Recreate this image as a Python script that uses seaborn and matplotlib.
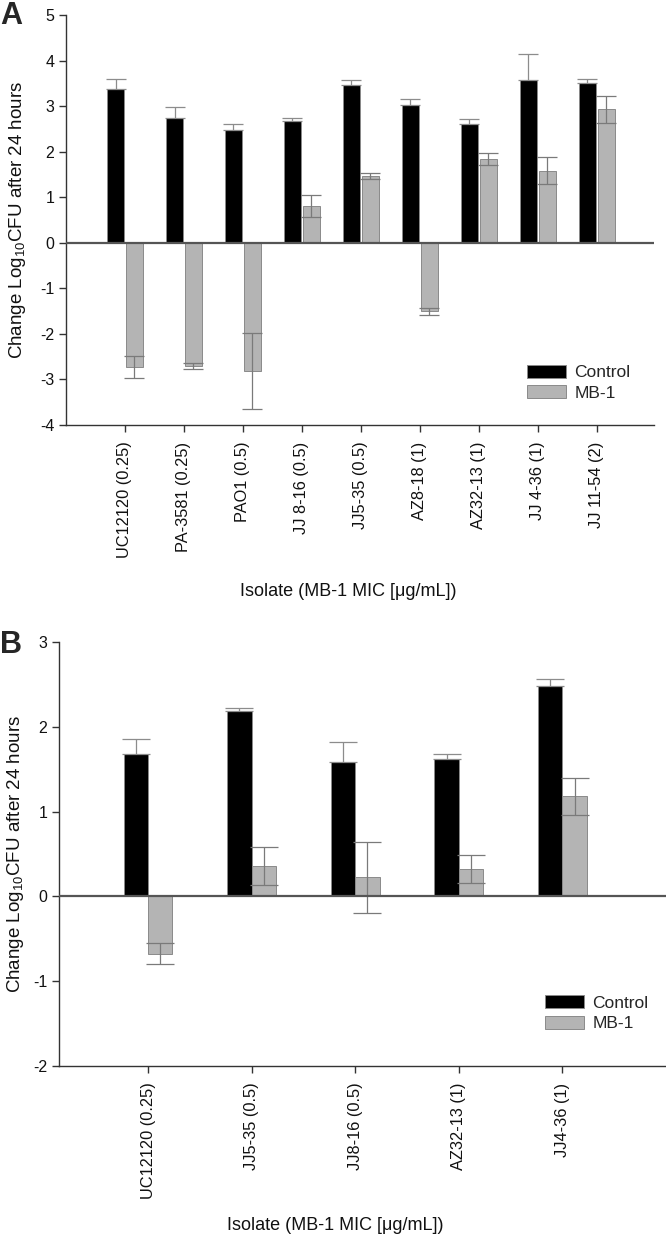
import numpy as np
import pandas as pd
import matplotlib
matplotlib.use("Agg")
import matplotlib.pyplot as plt
import seaborn as sns

# Panel A data
isolados_a = ["UC12120 (0.25)", "PA-3581 (0.25)", "PAO1 (0.5)", "JJ 8-16 (0.5)", "JJ5-35 (0.5)",
              "AZ8-18 (1)", "AZ32-13 (1)", "JJ 4-36 (1)", "JJ 11-54 (2)"]
control_a = [3.37, 2.74, 2.48, 2.68, 3.47, 3.02, 2.60, 3.58, 3.50]
control_a_err = [0.22, 0.24, 0.12, 0.07, 0.11, 0.13, 0.11, 0.57, 0.09]
mb1_a = [-2.72, -2.70, -2.81, 0.81, 1.46, -1.50, 1.84, 1.58, 2.93]
mb1_a_err = [0.24, 0.065, 0.84, 0.245, 0.07, 0.075, 0.13, 0.30, 0.30]

# Panel B data
isolados_b = ["UC12120 (0.25)", "JJ5-35 (0.5)", "JJ8-16 (0.5)", "AZ32-13 (1)", "JJ4-36 (1)"]
control_b = [1.68, 2.19, 1.59, 1.62, 2.48]
control_b_err = [0.18, 0.03, 0.23, 0.06, 0.08]
mb1_b = [-0.675, 0.36, 0.225, 0.32, 1.18]
mb1_b_err = [0.125, 0.22, 0.42, 0.165, 0.215]

grupos = ["Control", "MB-1"]
colores = ["#000000", "#b4b4b4"]

sns.set_style("white")
plt.rcParams["font.family"] = ["Liberation Sans", "DejaVu Sans"]
plt.rcParams["mathtext.default"] = "regular"
plt.rcParams["axes.unicode_minus"] = False

fig = plt.figure(figsize=(6.66, 12.35), dpi=100)
W, H = 666, 1235


def panel(rect, isolados, control, control_err, mb1, mb1_err, ancho, hueco, xlim, ylim,
          capsize, leyenda_pos):
    x0, y0, x1, y1 = rect
    ax = fig.add_axes([x0 / W, 1 - y1 / H, (x1 - x0) / W, (y1 - y0) / H])
    df = pd.DataFrame({
        "isolado": isolados * 2,
        "grupo": ["Control"] * len(isolados) + ["MB-1"] * len(isolados),
        "valor": list(control) + list(mb1),
    })
    sns.barplot(data=df, x="isolado", y="valor", hue="grupo", order=isolados, hue_order=grupos,
                palette=colores, width=ancho, gap=hueco, errorbar=None, ax=ax,
                edgecolor="#8a8a8a", linewidth=0.7)

    # barras de error: control solo hacia arriba (la parte de abajo queda tapada)
    xs_c = [b.get_x() + b.get_width() / 2 for b in ax.containers[0]]
    xs_m = [b.get_x() + b.get_width() / 2 for b in ax.containers[1]]
    ax.errorbar(xs_c, control, yerr=[np.zeros(len(control)), control_err], fmt="none",
                ecolor="#8c8c8c", elinewidth=0.9, capsize=capsize, capthick=0.9, zorder=3)
    ax.errorbar(xs_m, mb1, yerr=mb1_err, fmt="none", ecolor="#7a7a7a", elinewidth=0.9,
                capsize=capsize, capthick=0.9, zorder=3)

    ax.axhline(0, color="#555555", lw=1.6, zorder=4)
    ax.set_xlim(*xlim)
    ax.set_ylim(*ylim)
    ax.set_yticks(np.arange(ylim[0], ylim[1] + 1, 1))
    sns.despine(ax=ax)
    for s in ["left", "bottom"]:
        ax.spines[s].set_color("#333333")
        ax.spines[s].set_linewidth(1.0)
    ax.tick_params(axis="both", direction="out", length=5, width=1, color="#333333",
                   labelsize=11.5, labelcolor="#111111", bottom=True, left=True)
    ax.tick_params(axis="x", labelrotation=90, labelsize=11.8, pad=7)
    ax.set_xlabel("Isolate (MB-1 MIC [\u03bcg/mL])", fontsize=13, color="#111111")
    ax.set_ylabel("Change Log$_{10}$CFU after 24 hours", fontsize=13.5, color="#111111")
    ax.legend(loc="upper left", bbox_to_anchor=leyenda_pos, frameon=False, fontsize=12.5,
              handlelength=2.2, handleheight=0.75, borderpad=0, handletextpad=0.5,
              labelspacing=0.3)
    return ax


ax_a = panel((66, 15, 654, 425), isolados_a, control_a, control_a_err, mb1_a, mb1_a_err,
             0.64, 0.12, (-1.0, 8.97), (-4, 5), 7, (0.77, 0.168))
ax_a.xaxis.set_label_coords(0.48, -0.385)
ax_a.yaxis.set_label_coords(-0.064, 0.5)

ax_b = panel((59, 642, 666, 1066), isolados_b, control_b, control_b_err, mb1_b, mb1_b_err,
             0.47, 0.0, (-0.86, 5.0), (-2, 3), 10, (0.787, 0.187))
ax_b.xaxis.set_label_coords(0.455, -0.355)
ax_b.yaxis.set_label_coords(-0.054, 0.5)

fig.text(0 / W, 1 - 16 / H, "A", fontsize=22, fontweight="bold", va="center", ha="left",
         family=["Liberation Sans Narrow", "Liberation Sans"])
fig.text(0 / W, 1 - 645 / H, "B", fontsize=22, fontweight="bold", va="center", ha="left",
         family=["Liberation Sans Narrow", "Liberation Sans"])

fig.savefig("out.png", dpi=100, facecolor="white")
